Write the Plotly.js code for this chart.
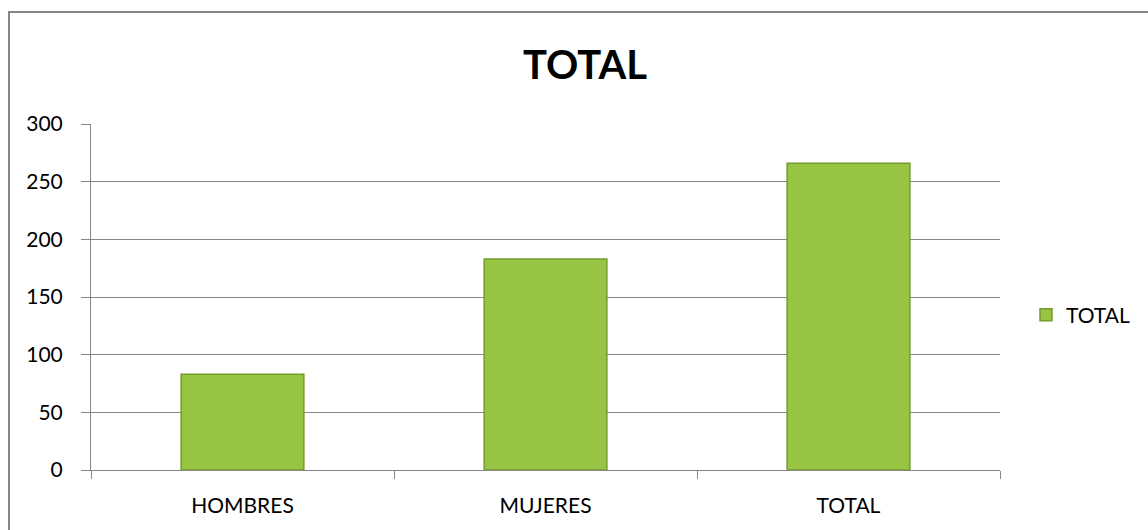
<!DOCTYPE html>
<html>
<head>
<meta charset="utf-8">
<script src="https://cdn.plot.ly/plotly-3.0.1.min.js"></script>
<style>
  html, body { margin: 0; padding: 0; background: #fff; }
  #wrap { position: relative; width: 1148px; height: 530px; overflow: hidden; }
  #chart { width: 1148px; height: 530px; }
  #frame { position: absolute; left: 8px; top: 11px; width: 1300px; height: 700px;
           border: 2px solid #868686; pointer-events: none; box-sizing: border-box; }
</style>
</head>
<body>
<div id="wrap">
  <div id="chart"></div>
  <div id="frame"></div>
</div>
<script>
const categories = ["HOMBRES", "MUJERES", "TOTAL"];
const values = [83, 183, 266];
const seriesName = "TOTAL";
const chartTitle = "TOTAL";
const yTicks = [0, 50, 100, 150, 200, 250, 300];

const fontFam = "Lato, 'Open Sans', sans-serif";

const trace = {
  type: "bar",
  x: categories,
  y: values,
  name: seriesName,
  showlegend: true,
  marker: {
    color: "#98c444",
    line: { color: "#769a2e", width: 1.5 }
  },
  hoverinfo: "x+y"
};

const layout = {
  width: 1148,
  height: 530,
  paper_bgcolor: "#ffffff",
  plot_bgcolor: "#ffffff",
  margin: { l: 91, r: 148, t: 124, b: 60, pad: 0 },
  bargap: 0.595,
  font: { family: fontFam, color: "#000000", size: 20 },
  title: {
    text: "<b>" + chartTitle + "</b>",
    font: { family: fontFam, size: 40, color: "#000000" },
    x: 585 / 1148, xref: "container", xanchor: "center",
    y: 1 - 65 / 530, yref: "container", yanchor: "middle"
  },
  xaxis: {
    type: "category",
    showgrid: false,
    showline: true,
    linecolor: "#868686",
    linewidth: 1,
    ticks: "outside",
    tickson: "boundaries",
    ticklen: 8,
    tickcolor: "#868686",
    tickfont: { family: fontFam, size: 21, color: "#000" },
    ticklabelstandoff: 17,
    zeroline: false
  },
  yaxis: {
    range: [0, 300],
    tickvals: yTicks,
    ticktext: yTicks.map(String),
    showgrid: true,
    gridcolor: "#868686",
    gridwidth: 1,
    showline: true,
    linecolor: "#868686",
    linewidth: 1,
    ticks: "outside",
    ticklen: 9,
    tickcolor: "#868686",
    tickfont: { family: fontFam, size: 21, color: "#000" },
    ticklabelstandoff: 14,
    zeroline: false
  },
  legend: {
    x: 1.0286, xanchor: "left",
    y: 0.448, yanchor: "middle",
    font: { family: fontFam, size: 21, color: "#000" },
    itemwidth: 30,
    bgcolor: "rgba(0,0,0,0)"
  }
};

Plotly.newPlot("chart", [trace], layout, { displayModeBar: false, staticPlot: true });
</script>
</body>
</html>
